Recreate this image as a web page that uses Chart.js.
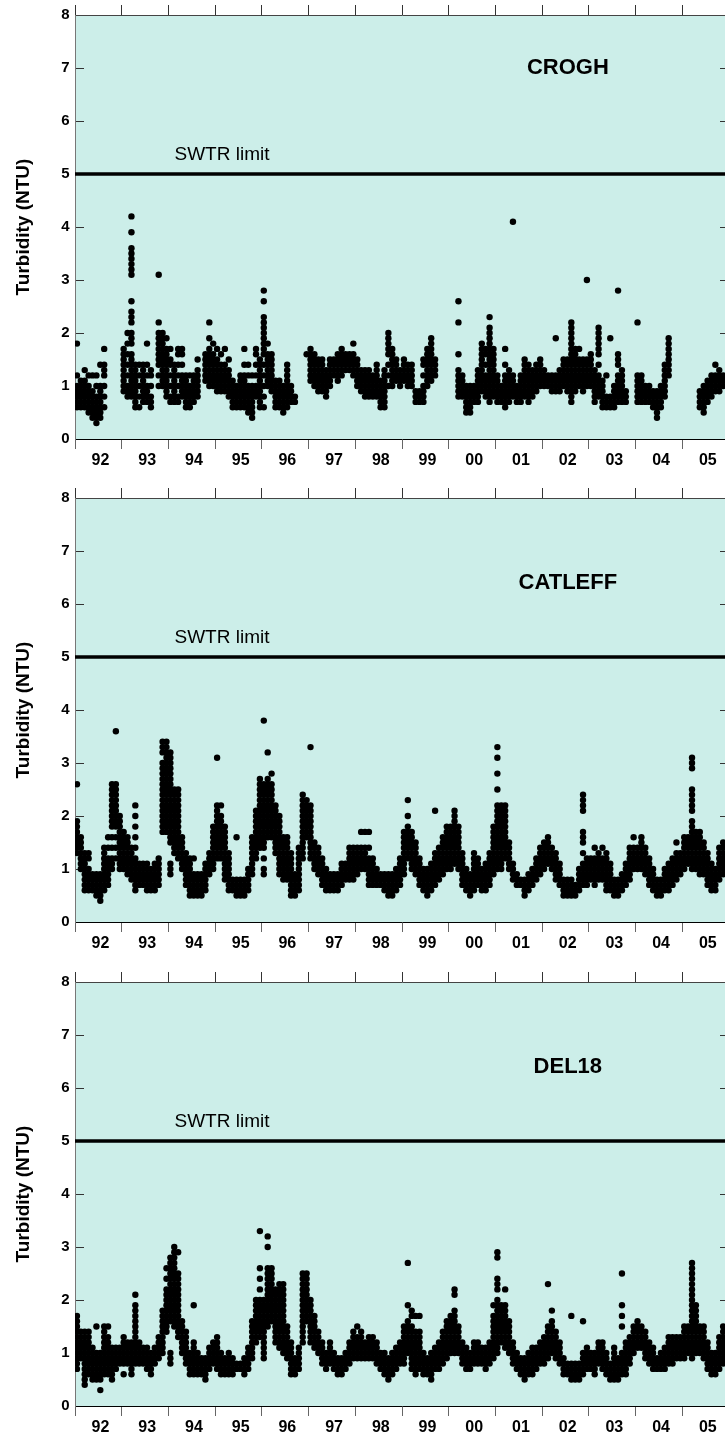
<!DOCTYPE html>
<html>
<head>
<meta charset="utf-8">
<title>Turbidity</title>
<script src="https://cdn.jsdelivr.net/npm/chart.js@4.4.0/dist/chart.umd.min.js"></script>
<style>
  html, body { margin: 0; padding: 0; background: #fff; overflow: hidden; }
  body { width: 725px; height: 1441px; position: relative; }
  canvas { position: absolute; left: 0; }
</style>
</head>
<body>
<canvas id="croghChart" width="733" height="474" style="top:0px"></canvas>
<canvas id="catleffChart" width="733" height="474" style="top:483px"></canvas>
<canvas id="del18Chart" width="733" height="474" style="top:967px"></canvas>
<script>
// Years on the x axis and their labels
const years = [1992, 1993, 1994, 1995, 1996, 1997, 1998, 1999, 2000, 2001, 2002, 2003, 2004, 2005];
const yearLabels = ['92', '93', '94', '95', '96', '97', '98', '99', '00', '01', '02', '03', '04', '05'];
const swtrLimit = 5;

// Turbidity readings in tenths of an NTU, one list per month (Jan..Dec)
const crogh1992 = [[6,7,8,9,10,12,18],[6,7,8,9,10,11],[6,7,8,9,10,11,13],[5,6,7,8,9,10,12],[4,5,6,7,8,9,12],[3,4,5,6,7,8,10,12],[4,5,6,7,8,9,10,14],[6,8,10,12,13,14,17],[],[],[],[]];
const crogh1993 = [[9,10,11,12,13,14,15,16,17],[8,9,10,12,14,16,18,20],[8,9,10,11,12,13,14,15,16,18,19,20,22,23,24,26,31,32,33,34,35,36,39,42],[6,7,8,9,10,11,12,13,14],[6,8,10,12,14],[7,8,9,10,11,12,13,14],[7,8,9,10,12,14,18],[6,7,8,10,12,13],[],[10,12,14,15,16,17,18,19,20,22,31],[10,11,12,13,14,15,16,17,18,19,20],[8,9,10,11,12,13,14,15,16,17,19]];
const crogh1994 = [[7,8,10,12,14,15,17],[7,8,9,10,11,12,13,14],[7,8,10,12,14,16,17],[8,9,10,11,12,14,16,17],[6,7,8,9,10,11,12],[6,7,8,9,10,12],[7,8,9,10,11,12],[8,9,10,11,12,13,15],[],[11,12,13,14,15,16],[10,11,12,13,14,15,16,17,19,22],[10,11,12,13,14,15,16,18]];
const crogh1995 = [[9,10,11,12,13,14,15,17],[9,10,11,12,13,14,16],[9,10,11,12,13,14,17],[8,9,10,11,12,13,15],[6,7,8,9,10,11],[6,7,8,9,10],[6,7,8,9,10,11,12],[6,7,8,9,10,11,12,14,17],[5,6,7,8,9,10,12,14],[4,5,6,7,8,9,10,12],[8,9,10,12,14,16,17],[6,7,8,9,10,11,12,13,14,15]];
const crogh1996 = [[6,8,10,12,14,16,17,18,19,20,21,22,23,26,28],[10,11,12,13,14,15,16,18],[9,10,11,12,13,14,15,16],[6,7,8,9,10,11],[6,7,8,9,10,11],[5,6,7,8,9,10],[6,7,8,9,10,11,12,13,14],[7,8,9,10],[7,8],[],[],[16]];
const crogh1997 = [[11,12,13,14,15,16,17],[10,11,12,13,14,15,16],[9,10,11,12,13,14,15],[9,10,11,12,13,14,15],[8,9,10,11,12,13],[10,11,12,13,14,15],[12,13,14,15],[11,12,13,14,15,16],[12,13,14,15,16,17],[13,14,15,16],[13,14,15,16],[12,13,14,15,16,18]];
const crogh1998 = [[10,11,12,13,14,15],[9,10,11,12,13],[8,9,10,11,12,13],[8,9,10,11,12,13],[8,9,10,11,12],[8,9,10,11,12,13,14],[6,7,8,9,10,11],[6,7,8,9,10,11,12,13],[10,12,14,16,17,18,19,20],[10,11,12,13,14,15,16,17],[11,12,13,14,15],[10,11,12,13]];
const crogh1999 = [[11,12,13,14,15],[10,11,12,13,14],[10,11,12,13,14],[7,8,9],[7,8,9],[7,8,9,10,12,14,15],[10,11,12,13,14,15,16,17],[11,12,13,14,15,16,17,18,19],[12,13,14,15],[],[],[]];
const crogh2000 = [[],[],[8,9,10,11,12,13,16,22,26],[8,9,10,11,12],[5,6,7,8,9,10],[5,6,7,8,9,10],[7,8,9,10],[7,8,9,10,11,12,13],[9,10,11,12,13,14,15,16,17,18],[8,9,10,11,12,14,16,17],[7,8,9,10,11,12,13,14,15,16,17,18,19,20,21,23],[8,9,10,11,12,13,14,15,16,17]];
const crogh2001 = [[7,8,9,10,11,12],[7,8,9,10],[6,7,8,9,10,11,12,14,17],[7,8,9,10,11,12,13],[8,9,10,11,12,41],[7,8,9,10],[7,8,9,10,11,12],[8,9,10,11,12,13,14,15],[7,8,9,10,11,12,13,14],[8,9,10,11,12,13],[9,10,11,12,13,14],[10,11,12,13,14,15]];
const crogh2002 = [[10,11,12,13],[10,11,12],[9,10,11,12],[9,10,11,12,19],[9,10,11,12,13],[10,11,12,13,14,15],[9,10,11,12,13,14,15],[7,8,9,10,11,12,13,14,15,16,17,18,19,20,21,22],[9,10,11,12,13,14,15,16,17],[10,11,12,13,14,15,17],[9,10,11,12,13,14,15],[10,11,12,13,14,15,30]];
const crogh2003 = [[10,11,12,13,14,15,16],[7,8,9,10,11,12,13],[8,9,10,11,12,14,16,17,18,19,20,21],[6,7,8,9,10,11],[6,7,8,12],[6,7,8,19],[6,7,8,9,10],[7,8,9,10,11,12,14,15,16,28],[7,8,9,10,11,12,13],[7,8,9],[],[]];
const crogh2004 = [[7,8,9,10,11,12,22],[7,8,9,10,11,12],[7,8,9,10],[7,8,9,10],[6,7,8,9],[4,5,6,7,8,9],[6,7,8,9,10],[8,9,10,11,12,13,14],[12,13,14,15,16,17,18,19],[],[],[]];
const crogh2005 = [[],[],[],[],[6,7,8,9],[5,6,7,8,9,10],[7,8,9,10,11],[8,9,10,11,12],[9,10,11,12,14],[9,10,11,12,13],[10,11,12],[]];

const catleff1992 = [[13,14,15,16,17,18,19,26],[10,11,12,13,14,15,16],[6,7,8,9,10,11,12,13],[6,7,8,9,10,12,13],[6,7,8,9],[5,6,7,8,9],[4,5,6,7,8,9],[6,7,8,9,10,11,12,13,14],[7,8,9,10,11,12,14,16],[10,11,12,14,16,18,19,20,21,22,23,24,25,26],[12,14,16,18,19,20,21,22,23,24,25,26,36],[10,11,12,13,14,15,16,17,18,19,20]];
const catleff1993 = [[10,11,12,13,14,15,16,17],[9,10,11,12,13,14,15,16],[8,9,10,11,12,13,14],[6,7,8,9,10,11,12,14,16,18,20,22],[7,8,9,10,11],[7,8,9,10,11],[6,7,8,9,10,11],[6,7,8,9,10],[6,7,8,9,10,11],[7,8,9,10,11,12],[17,18,19,20,21,22,23,24,25,26,27,28,29,30,32,33,34],[17,18,19,20,21,22,23,24,25,26,27,28,29,30,31,32,33,34]];
const catleff1994 = [[9,10,11,15,16,17,18,19,20,21,22,23,24,25,26,27,28,29,30,31,32],[13,14,15,16,17,18,19,20,21,22,23,24,25],[12,13,14,15,16,17,18,19,20,21,22,23,24,25],[10,11,12,13,14,15,16],[7,8,9,10,11,12,13],[5,6,7,8,9,10,11,12],[5,6,7,8,9,12],[5,6,7,8,9],[5,6,7,8,9],[6,7,8,9,10,11],[9,10,11,12,13],[10,11,12,13,14,15,16,17,18]];
const catleff1995 = [[12,13,14,15,16,17,18,19,20,21,22,31],[12,13,14,15,16,17,18,19,20,22],[8,9,10,11,12,13,14,15,16,17,18],[6,7,8,9,10,11,12,13],[6,7,8],[5,6,7,8,16],[5,6,7,8],[5,6,7,8],[6,7,8,9,10],[9,10,11,12,13,14,15,16],[12,13,14,15,16,17,18,19,20,21],[14,15,16,17,18,19,20,21,22,23,24,25,26,27]];
const catleff1996 = [[9,10,12,14,15,16,17,18,19,20,21,22,23,24,25,26,38],[16,17,18,19,20,21,22,23,24,25,26,27,32],[16,17,18,19,20,21,22,23,24,25,26,28],[13,14,15,16,17,18,19,20,21,22],[9,10,11,12,13,14,15,16,17,18,19,20],[8,9,10,11,12,13,14,15,16],[8,9,10,11,12,13,14,15,16],[5,6,7,8,9,10,11,12,13],[5,6,7,8,9],[6,7,8,9,10,11,12,13,14],[12,13,14,15,16,17,18,19,20,21,22,23,24],[16,17,18,19,20,21,22,23]];
const catleff1997 = [[12,13,14,15,16,17,18,19,20,21,22,33],[10,11,12,13,14,15],[9,10,11,12,13,14],[7,8,9,10,11,12],[6,7,8,9,10],[6,7,8,9],[6,7,8,9],[6,7,8,9],[7,8,9,10,11],[8,9,10,11],[8,9,10,11,12,13,14],[8,9,10,11,12,13,14]];
const catleff1998 = [[9,10,11,12,13,14],[10,11,12,13,14,17],[10,11,12,13,14,17],[7,8,9,10,11,12,14,17],[7,8,9,10,11,12],[7,8,9,10],[7,8,9],[6,7,8,9],[5,6,7,8,9],[5,6,7,8,9],[6,7,8,9,10],[7,8,9,10,11,12]];
const catleff1999 = [[9,10,11,12,13,14,15,16,17],[12,13,14,15,16,17,18,20,23],[10,11,12,13,14,15,16,17],[9,10,11,12,13,14,15],[7,8,9,10,11,12],[6,7,8,9,10],[5,6,7,8,9,10],[6,7,8,9,10,11],[7,8,9,10,11,12,13,21],[8,9,10,11,12,13,14],[9,10,11,12,13,14,15,16],[10,11,12,13,14,15,16,17,18]];
const catleff2000 = [[10,11,12,13,14,15,16,17,18],[11,12,13,14,15,16,17,18,19,20,21],[10,11,12,13,14,15,16,17,18],[7,8,9,10,11,12,13],[6,7,8,9,10],[5,6,7,8,9],[6,7,8,9,10,11,12,13],[7,8,9,10,11,12],[6,7,8,9,10],[6,7,8,9,10,11],[7,8,9,10,11,12,13],[9,10,11,12,13,14,15,16,17,18]];
const catleff2001 = [[10,11,12,13,14,15,16,17,18,19,20,21,22,25,28,31,33],[10,11,12,13,14,15,16,17,18,19,20,21,22],[12,13,14,15,16,17,18,19,20,21,22],[10,11,12,13,14,15],[8,9,10,11],[7,8,9],[7,8],[5,6,7,8],[6,7,8,9],[7,8,9,10],[8,9,10,11,12],[9,10,11,12,13,14]];
const catleff2002 = [[10,11,12,13,14,15],[11,12,13,14,15,16],[10,11,12,13,14],[8,9,10,11,12,13],[7,8,9,10,11],[5,6,7,8],[5,6,7,8],[5,6,7,8],[5,6,7],[6,7,8,9,10],[7,8,9,10,11,13,15,16,17,21,22,23,24],[7,8,9,10,11,12]];
const catleff2003 = [[8,9,10,11,12],[7,8,9,10,11,12,14],[8,9,10,11,12,13],[8,9,10,11,12,14],[6,7,8,9,10,11,12,13],[6,7,8,9,10,11],[5,6,7,8],[5,6,7,8],[6,7,8,9],[7,8,9,10,11],[8,9,10,11,12,13,14],[10,11,12,13,14,16]];
const catleff2004 = [[10,11,12,13,14],[10,11,12,13,14,15,16],[9,10,11,12,13,14],[7,8,9,10,11,12],[6,7,8,9,10],[5,6,7,8],[5,6,7,8],[6,7,8,9,10],[6,7,8,9,10,11],[7,8,9,10,11,12],[8,9,10,11,12,13,15],[9,10,11,12,13]];
const catleff2005 = [[10,11,12,13,14,15,16],[11,12,13,14,15,16],[10,11,12,13,14,15,16,17,18,19,21,22,23,24,25,29,30,31],[10,11,12,13,14,15,16,17],[9,10,11,12,13,14,15,16,17],[9,10,11,12,13,14,15],[7,8,9,10,11,12,13],[6,7,8,9,10,11],[6,7,8,9,10],[8,9,10,11,12,13,14],[9,10,11,12,13,14,15],[10,11,12,13]];

const del1992 = [[7,8,9,10,11,12,13,14,15,16,17],[9,10,11,12,13,14],[4,5,6,7,8,9,10,11,12,13,14],[6,7,8,9,10,11,12,13,14],[5,6,7,8,9,10,11],[5,6,7,8,9,10,15],[3,5,6,7,8,9,10],[6,7,8,9,10,11,12,13,14,15],[6,7,8,9,10,11,12,13,15],[5,6,7,8,9,10,11],[7,8,9,10,11],[8,9,10,11]];
const del1993 = [[6,8,9,10,11,12,13],[8,9,10,11,12],[6,7,8,9,10,11,12],[8,9,10,11,12,13,14,15,16,17,18,19,21],[8,9,10,11,12],[8,9,10,11],[7,8,9,10,11],[6,7,8,9,10],[8,9,10,11],[9,10,11,12,13],[10,11,12,13,14,15,16,17,18],[14,15,16,17,18,19,20,21,22,24,26]];
const del1994 = [[8,9,10,16,17,18,19,20,21,22,23,24,25,26,27,28],[15,16,17,18,19,20,21,22,23,24,25,26,27,28,29,30],[13,14,15,16,17,18,19,20,21,22,23,24,25,29],[10,11,12,13,14,15,16],[8,9,10,11,12,13,14],[6,7,8,9,10],[6,7,8,9,10,11,12,19],[6,7,8,9,10],[6,7,8,9],[5,6,7,8,9],[7,8,9,10,11],[8,9,10,11,12]];
const del1995 = [[7,8,9,10,11,12,13],[6,7,8,9,10],[6,7,8,9],[6,7,8,9,10],[6,7,8,9],[7,8],[7,8],[6,7,8,9],[7,8,9,10,11],[9,10,11,12,13,14,15,16],[12,13,14,15,16,17,18,19,20],[13,14,15,16,17,18,19,20,22,24,26,33]];
const del1996 = [[9,10,11,12,13,14,15,16,17,18,19,20],[15,16,17,18,19,20,21,22,23,24,25,26,30,32],[16,17,18,19,20,21,22,23,24,25,26],[12,13,14,15,16,17,18,19,20,21,22],[11,12,13,14,15,16,17,18,19,20,21,22,23],[10,11,12,13,14,15,16,17,18,19,20,21,22,23],[9,10,11,12,13,14,15],[6,7,8,9,10,11,12],[6,7,8,9],[7,8,9,10,11],[12,13,14,15,16,17,18,19,20,21,22,23,24,25],[16,17,18,19,20,21,22,23,24,25]];
const del1997 = [[12,13,14,15,16,17,18,19,20],[11,12,13,14,15,16,17],[10,11,12,13,14],[8,9,10,11,12],[7,8,9,10],[8,9,10,11,12],[7,8,9,10],[6,7,8,9],[6,7,8,9],[7,8,9,10],[8,9,10,11,12],[9,10,11,12,13,14]];
const del1998 = [[9,10,11,12,13,15],[9,10,11,12,13,14],[9,10,11,12],[9,10,11,12,13],[9,10,11,12,13],[8,9,10,11,12],[7,8,9,10],[6,7,8,9,10],[5,6,7,8,9],[6,7,8,9,10],[7,8,9,10,11],[8,9,10,11,12]];
const del1999 = [[8,9,10,11,12,13,14,15],[10,11,12,13,14,15,16,19,27],[7,8,9,10,11,12,13,14,15,17,18],[6,7,8,9,10,11,12,13,14,17],[7,8,9,10,11,12,13,14,17],[6,7,8,9,10],[6,7,8,9],[5,6,7,8,9,10],[7,8,9,10,11],[7,8,9,10,11,12],[8,9,10,11,12,13,14],[9,10,11,12,13,14,15,16]];
const del2000 = [[10,11,12,13,14,15,16,17],[10,11,12,13,14,15,16,17,18,21,22],[10,11,12,13,14,15],[8,9,10,11,12],[7,8,9,10,11],[7,8,9,10],[8,9,10,11,12],[8,9,10,11,12],[8,9,10,11],[7,8,9,10,11],[8,9,10,11,12],[9,10,11,12,13,14,15,16,17,19]];
const del2001 = [[10,11,12,13,14,15,16,17,18,19,20,22,23,24,28,29],[12,13,14,15,16,17,18,19],[11,12,13,14,15,16,17,18,19,22],[10,11,12,13,14,15,16],[8,9,10,11,12],[7,8,9,10],[6,7,8,9],[5,6,7,8,9],[6,7,8,9,10],[6,7,8,9,10,11],[7,8,9,10,11],[8,9,10,11,12]];
const del2002 = [[8,9,10,11,12,13],[9,10,11,12,13,14,15,23],[10,11,12,13,14,15,16,18],[9,10,11,12,13,14],[8,9,10,11,12],[6,7,8,9],[6,7,8],[5,6,7,8,17],[5,6,7,8],[5,6,7,8],[6,7,8,9,10,16],[7,8,9,10,11]];
const del2003 = [[7,8,9,10],[6,7,8,9,10],[8,9,10,11,12],[7,8,9,10,11,12],[6,7,8,9,10],[5,6,7,8],[5,6,7,8,9,10,11],[5,6,7,8,9],[6,7,8,9,10,15,17,19,25],[6,7,8,9,10,11,12],[8,9,10,11,12,13],[10,11,12,13,14,15]];
const del2004 = [[11,12,13,14,15,16],[11,12,13,14,15],[9,10,11,12,13,14],[8,9,10,11,12],[7,8,9,10,11],[7,8,9],[7,8,9,10],[7,8,9,10,11],[8,9,10,11,12,13],[8,9,10,11,12,13],[9,10,11,12,13],[9,10,11,12,13]];
const del2005 = [[9,10,11,12,13,14,15],[10,11,12,13,14,15],[9,10,11,12,13,14,15,16,17,18,19,20,21,22,23,24,25,26,27],[10,11,12,13,14,15,16,17,18,19],[10,11,12,13,14,15],[9,10,11,12,13,14,15],[7,8,9,10,11,12],[6,7,8,9,10],[6,7,8,9,10],[7,8,9,10,11,12,13],[8,9,10,11,12,13,14,15],[9,10,11,12,13]];

const croghYears = [crogh1992, crogh1993, crogh1994, crogh1995, crogh1996, crogh1997, crogh1998, crogh1999, crogh2000, crogh2001, crogh2002, crogh2003, crogh2004, crogh2005];
const catleffYears = [catleff1992, catleff1993, catleff1994, catleff1995, catleff1996, catleff1997, catleff1998, catleff1999, catleff2000, catleff2001, catleff2002, catleff2003, catleff2004, catleff2005];
const del18Years = [del1992, del1993, del1994, del1995, del1996, del1997, del1998, del1999, del2000, del2001, del2002, del2003, del2004, del2005];

const FONT = '"Liberation Sans", Arial, sans-serif';
Chart.defaults.font.family = FONT;
Chart.defaults.color = '#000';

// Turn the monthly lists into scatter points (x = decimal year, y = NTU)
function toPoints(yearLists) {
  const pts = [];
  yearLists.forEach((months, i) => {
    months.forEach((col, m) => {
      col.forEach(v => pts.push({ x: years[i] + (m + 0.5) / 12, y: v / 10 }));
    });
  });
  return pts;
}

// Light cyan fill behind the plot
const plotBackground = {
  id: 'plotBackground',
  beforeDraw(chart) {
    const { ctx, chartArea } = chart;
    ctx.save();
    ctx.fillStyle = '#cceee9';
    ctx.fillRect(chartArea.left, chartArea.top, chartArea.right - chartArea.left, chartArea.bottom - chartArea.top);
    ctx.restore();
  }
};

// Site name and the "SWTR limit" note
const panelText = {
  id: 'panelText',
  afterDatasetsDraw(chart, args, opts) {
    const { ctx } = chart;
    const x = chart.scales.x, y = chart.scales.y;
    ctx.save();
    ctx.fillStyle = '#000';
    ctx.textBaseline = 'middle';
    ctx.textAlign = 'center';
    ctx.font = 'bold 22px ' + FONT;
    ctx.fillText(opts.site, x.getPixelForValue(2002.55), y.getPixelForValue(opts.siteY));
    ctx.textAlign = 'left';
    ctx.font = '19px ' + FONT;
    ctx.fillText('SWTR limit', x.getPixelForValue(1994.13), y.getPixelForValue(5.37));
    ctx.restore();
  }
};

function makeChart(canvasId, site, siteY, yearLists) {
  const ctx = document.getElementById(canvasId).getContext('2d');
  return new Chart(ctx, {
    type: 'scatter',
    data: {
      datasets: [{
        label: site,
        data: toPoints(yearLists),
        backgroundColor: '#000',
        borderWidth: 0,
        pointRadius: 3.2,
        xAxisID: 'x',
        yAxisID: 'y'
      }, {
        type: 'line',
        label: 'SWTR limit',
        data: [{ x: 1992, y: swtrLimit }, { x: 2006, y: swtrLimit }],
        borderColor: '#000',
        borderWidth: 3.5,
        pointRadius: 0,
        xAxisID: 'x',
        yAxisID: 'y'
      }]
    },
    options: {
      responsive: false,
      animation: false,
      events: [],
      layout: { padding: 0 },
      plugins: {
        legend: { display: false },
        tooltip: { enabled: false },
        panelText: { site: site, siteY: siteY }
      },
      scales: {
        x: {
          type: 'linear',
          position: 'bottom',
          min: 1992,
          max: 2006,
          afterFit: (axis) => { axis.height = 35; },
          ticks: {
            stepSize: 1,
            autoSkip: false,
            maxRotation: 0,
            labelOffset: 25.5,
            padding: 2,
            font: { size: 16, weight: 'bold' },
            callback: (value) => {
              const i = years.indexOf(value);
              return i >= 0 ? yearLabels[i] : '';
            }
          },
          grid: { drawOnChartArea: false, tickLength: 10, color: '#666' },
          border: { color: '#000', width: 1 }
        },
        xTop: {
          type: 'linear',
          position: 'top',
          min: 1992,
          max: 2006,
          afterFit: (axis) => { axis.height = 15; },
          ticks: { display: false, stepSize: 1 },
          grid: { drawOnChartArea: false, tickLength: 10, color: '#333' },
          border: { color: '#444', width: 1 }
        },
        y: {
          type: 'linear',
          position: 'left',
          min: 0,
          max: 8,
          // fixed axis width; the label padding must not push the plot down
          afterFit: (axis) => { axis.width = 75; axis.paddingTop = 0; axis.paddingBottom = 0; },
          ticks: { stepSize: 1, padding: 14.5, font: { size: 15, weight: 'bold' } },
          grid: { drawOnChartArea: false, tickLength: -9, color: '#333' },
          border: { color: '#777', width: 1 },
          title: {
            display: true,
            text: 'Turbidity (NTU)',
            font: { size: 19, weight: 'bold' },
            padding: { top: 12, bottom: 0 }
          }
        },
        yRight: {
          type: 'linear',
          position: 'right',
          min: 0,
          max: 8,
          afterFit: (axis) => { axis.width = 4; axis.paddingTop = 0; axis.paddingBottom = 0; },
          ticks: { display: false, stepSize: 1 },
          grid: { drawOnChartArea: false, tickLength: -9, color: '#333' },
          border: { color: '#444', width: 1 }
        }
      }
    },
    plugins: [plotBackground, panelText]
  });
}

makeChart('croghChart', 'CROGH', 7.0, croghYears);
makeChart('catleffChart', 'CATLEFF', 6.4, catleffYears);
makeChart('del18Chart', 'DEL18', 6.4, del18Years);
</script>
</body>
</html>
